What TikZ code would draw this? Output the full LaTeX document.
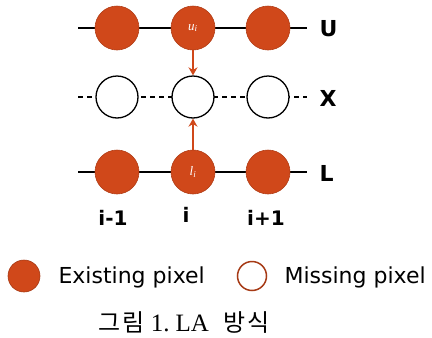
\documentclass[tikz,border=0pt]{standalone}
\usepackage{fontspec}
\setmainfont{DejaVu Sans}
\newfontfamily\cjk{Noto Sans CJK KR}
\newfontfamily\capserif{Liberation Serif}
\usetikzlibrary{arrows.meta}
\definecolor{pix}{RGB}{208,72,26}
\tikzset{
  full/.style={circle,fill=pix,draw=pix!85!black,line width=0.6pt,minimum size=44pt,inner sep=0pt,text=white,font=\fontsize{13}{13}\selectfont\capserif\itshape},
  hole/.style={circle,fill=white,draw=black,line width=1.3pt,minimum size=42pt,inner sep=0pt},
  rowlab/.style={font=\fontsize{22}{22}\selectfont\bfseries,anchor=west},
  collab/.style={font=\fontsize{20}{20}\selectfont\bfseries},
  row/.style={line width=1.6pt},
  dashrow/.style={line width=1.4pt,dash pattern=on 5pt off 4pt},
  arr/.style={pix,line width=2.6pt,-{Stealth[length=8pt,width=9pt]}},
  legtext/.style={font=\fontsize{22}{22}\selectfont,anchor=base west}
}
\begin{document}
\begin{tikzpicture}[x=1pt,y=-1pt]
\useasboundingbox (0,0) rectangle (432,338);
% rows
\coordinate (u0) at (78,28); \coordinate (u1) at (307,28);
\coordinate (x0) at (78,97); \coordinate (x1) at (307,97);
\coordinate (l0) at (78,172); \coordinate (l1) at (307,172);
\draw[row] (u0) -- (u1);
\draw[dashrow] (x0) -- (x1);
\draw[row] (l0) -- (l1);
% U row
\node[full] (ua) at (117,28) {};
\node[full] (ub) at (193,28) {u\textsubscript{i}};
\node[full] (uc) at (268,28) {};
% X row
\node[hole] (xa) at (117,97) {};
\node[hole] (xb) at (193,97) {};
\node[hole] (xc) at (268,97) {};
% L row
\node[full] (la) at (117,172) {};
\node[full] (lb) at (193,172) {l\textsubscript{i}};
\node[full] (lc) at (268,172) {};
% arrows
\draw[arr] (ub.south) -- (xb.north);
\draw[arr] (lb.north) -- (xb.south);
% row labels
\node[rowlab] (lu) at (316,29) {U};
\node[rowlab] (lx) at (316,98) {X};
\node[rowlab] (ll) at (316,173) {L};
% column labels
\node[collab] (c1) at (113,218) {i-1};
\node[collab] (c2) at (186,215) {i};
\node[collab] (c3) at (266,218) {i+1};
% legend
\node[circle,fill=pix,draw=pix!80!black,line width=0.6pt,minimum size=32pt,inner sep=0pt] (le) at (24,276) {};
\node[legtext] (te) at (55,283) {Existing pixel};
\node[circle,fill=white,draw=pix!80!black,line width=1.5pt,minimum size=29pt,inner sep=0pt] (lm) at (252,276) {};
\node[legtext] (tm) at (281,283) {Missing pixel};
% caption
\node[font=\fontsize{24}{24}\selectfont] (cap) at (184,323) {{\cjk 그\hspace{2pt}림}\hspace{6pt}{\capserif\fontsize{25}{25}\selectfont 1.\hspace{6pt}LA}\hspace{14pt}{\cjk 방\hspace{2pt}식}};
\end{tikzpicture}
\end{document}
